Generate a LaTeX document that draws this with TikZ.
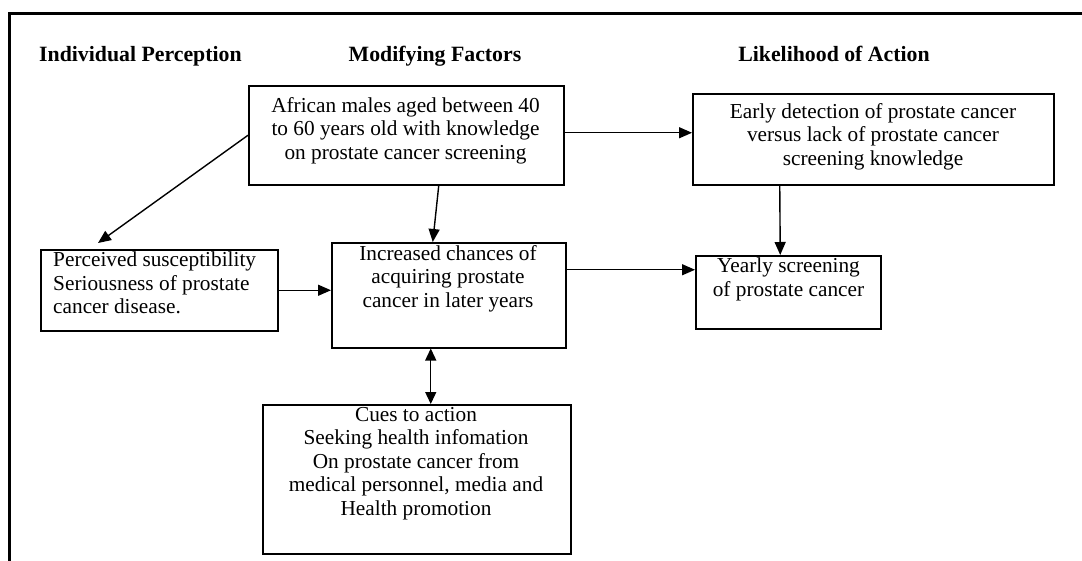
\documentclass[tikz,border=0pt]{standalone}
\usepackage{fontspec}
\setmainfont{Liberation Serif}
\usetikzlibrary{arrows.meta,calc}
\begin{document}
\begin{tikzpicture}[x=1pt,y=-1pt,
 box/.style={draw, line width=1.5pt, inner sep=0pt, anchor=north west},
 txt/.style={inner sep=0pt, align=center, font=\fontsize{21.3}{23.5}\selectfont, anchor=north},
 head/.style={inner sep=0pt, font=\fontsize{21.8}{23.5}\selectfont\bfseries, anchor=base},
 tip/.style={Triangle[length=13pt,width=11pt]},
 arr/.style={line width=1.4pt, -{Triangle[length=13pt,width=11pt]}},
 darr/.style={line width=1.4pt, {Triangle[length=12pt,width=11pt]}-{Triangle[length=12pt,width=11pt]}}]
\useasboundingbox (0,0) rectangle (1082,560);
\draw[line width=3pt] (9,561) -- (9,13.5) -- (1083,13.5);

% headings
\node[head, anchor=base west] (h1) at (39,61) {Individual Perception};
\node[head] (h2) at (435,61) {Modifying Factors};
\node[head] (h3) at (834,61) {Likelihood of Action};

% boxes
\node[box, minimum width=315pt, minimum height=99pt] (A) at (248,85) {};
\node[box, minimum width=361pt, minimum height=91pt] (B) at (692,93) {};
\node[box, minimum width=237pt, minimum height=81pt] (C) at (40,249) {};
\node[box, minimum width=234pt, minimum height=105pt] (D) at (331,242) {};
\node[box, minimum width=185pt, minimum height=73pt] (E) at (695,255) {};
\node[box, minimum width=308pt, minimum height=149pt] (F) at (262,404) {};

% texts
\node[txt] (At) at (405.5,97) {African males aged between 40\\to 60 years old with knowledge\\on prostate cancer screening};
\node[txt] (Bt) at (873,103) {Early detection of prostate cancer\\versus lack of prostate cancer\\screening knowledge};
\node[txt, align=left, anchor=north west] (Ct) at (53,252) {Perceived susceptibility\\Seriousness of prostate\\cancer disease.};
\node[txt] (Dt) at (448,245) {Increased chances of\\acquiring prostate\\cancer in later years};
\node[txt] (Et) at (788.5,258) {Yearly screening\\of prostate cancer};
\node[txt] (Ft) at (416,407) {Cues to action\\Seeking health infomation\\On prostate cancer from\\medical personnel, media and\\Health promotion};

% connectors
\coordinate (cTip) at (98,243);
\draw[arr] (A.west) -- (cTip);
\draw[arr] ($(A.south)+(32.5,0)$) -- ($(D.north)+(-16,0)$);
\coordinate (a1) at ($(A.east)+(0,-2.5)$);
\draw[arr] (a1) -- (a1 -| B.west);
\draw[arr] ($(B.south)+(-93.5,0)$) -- ($(E.north)+(-8,0)$);
\draw[arr] (C.east) -- (C.east -| D.west);
\coordinate (d1) at ($(D.east)+(0,-25.5)$);
\draw[arr] (d1) -- (d1 -| E.west);
\coordinate (d2) at ($(D.south)+(-18,0)$);
\draw[darr] (d2) -- (d2 |- F.north);
\end{tikzpicture}
\end{document}
